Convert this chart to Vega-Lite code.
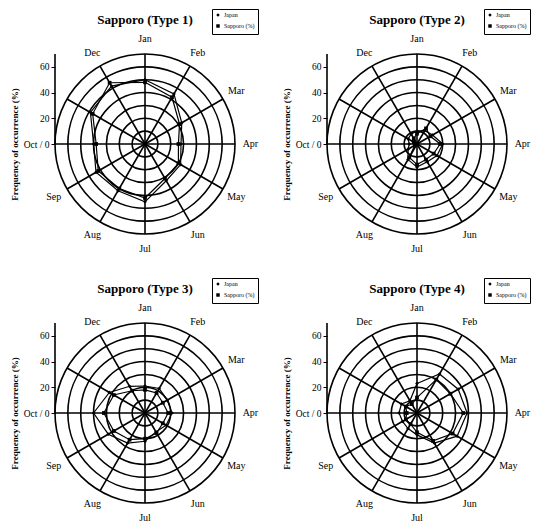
{
  "$schema": "https://vega.github.io/schema/vega-lite/v6.json",
  "padding": {"left": 10, "top": 8, "right": 2, "bottom": 2},
  "background": "white",
  "config": {"view": {"stroke": null}, "font": "Liberation Serif", "axis": {"labelOverlap": false, "labelSeparation": 0}, "axisY": {"labelOverlap": false}},
  "datasets": {
    "rings": [{"r": 10}, {"r": 20}, {"r": 30}, {"r": 40}, {"r": 50}, {"r": 60}, {"r": 70}],
    "months": [{"m": "Jan"}, {"m": "Feb"}, {"m": "Mar"}, {"m": "Apr"}, {"m": "May"}, {"m": "Jun"}, {"m": "Jul"}, {"m": "Aug"}, {"m": "Sep"}, {"m": "Oct"}, {"m": "Nov"}, {"m": "Dec"}],
    "axisline": [{"r0": 0, "r1": 70}],
    "series": [
      {"type": "Type 1", "series": "Japan", "m": "Jan", "v": 50},
      {"type": "Type 1", "series": "Japan", "m": "Feb", "v": 45},
      {"type": "Type 1", "series": "Japan", "m": "Mar", "v": 33},
      {"type": "Type 1", "series": "Japan", "m": "Apr", "v": 28},
      {"type": "Type 1", "series": "Japan", "m": "May", "v": 32},
      {"type": "Type 1", "series": "Japan", "m": "Jun", "v": 33},
      {"type": "Type 1", "series": "Japan", "m": "Jul", "v": 45},
      {"type": "Type 1", "series": "Japan", "m": "Aug", "v": 42},
      {"type": "Type 1", "series": "Japan", "m": "Sep", "v": 44},
      {"type": "Type 1", "series": "Japan", "m": "Oct", "v": 40},
      {"type": "Type 1", "series": "Japan", "m": "Nov", "v": 49},
      {"type": "Type 1", "series": "Japan", "m": "Dec", "v": 52},
      {"type": "Type 1", "series": "Sapporo (%)", "m": "Jan", "v": 48},
      {"type": "Type 1", "series": "Sapporo (%)", "m": "Feb", "v": 42},
      {"type": "Type 1", "series": "Sapporo (%)", "m": "Mar", "v": 31},
      {"type": "Type 1", "series": "Sapporo (%)", "m": "Apr", "v": 26},
      {"type": "Type 1", "series": "Sapporo (%)", "m": "May", "v": 30},
      {"type": "Type 1", "series": "Sapporo (%)", "m": "Jun", "v": 31},
      {"type": "Type 1", "series": "Sapporo (%)", "m": "Jul", "v": 42},
      {"type": "Type 1", "series": "Sapporo (%)", "m": "Aug", "v": 40},
      {"type": "Type 1", "series": "Sapporo (%)", "m": "Sep", "v": 42},
      {"type": "Type 1", "series": "Sapporo (%)", "m": "Oct", "v": 38},
      {"type": "Type 1", "series": "Sapporo (%)", "m": "Nov", "v": 47},
      {"type": "Type 1", "series": "Sapporo (%)", "m": "Dec", "v": 55},
      {"type": "Type 2", "series": "Japan", "m": "Jan", "v": 10},
      {"type": "Type 2", "series": "Japan", "m": "Feb", "v": 12},
      {"type": "Type 2", "series": "Japan", "m": "Mar", "v": 14},
      {"type": "Type 2", "series": "Japan", "m": "Apr", "v": 20},
      {"type": "Type 2", "series": "Japan", "m": "May", "v": 18},
      {"type": "Type 2", "series": "Japan", "m": "Jun", "v": 16},
      {"type": "Type 2", "series": "Japan", "m": "Jul", "v": 18},
      {"type": "Type 2", "series": "Japan", "m": "Aug", "v": 14},
      {"type": "Type 2", "series": "Japan", "m": "Sep", "v": 8},
      {"type": "Type 2", "series": "Japan", "m": "Oct", "v": 6},
      {"type": "Type 2", "series": "Japan", "m": "Nov", "v": 8},
      {"type": "Type 2", "series": "Japan", "m": "Dec", "v": 9},
      {"type": "Type 2", "series": "Sapporo (%)", "m": "Jan", "v": 8},
      {"type": "Type 2", "series": "Sapporo (%)", "m": "Feb", "v": 14},
      {"type": "Type 2", "series": "Sapporo (%)", "m": "Mar", "v": 12},
      {"type": "Type 2", "series": "Sapporo (%)", "m": "Apr", "v": 18},
      {"type": "Type 2", "series": "Sapporo (%)", "m": "May", "v": 15},
      {"type": "Type 2", "series": "Sapporo (%)", "m": "Jun", "v": 14},
      {"type": "Type 2", "series": "Sapporo (%)", "m": "Jul", "v": 16},
      {"type": "Type 2", "series": "Sapporo (%)", "m": "Aug", "v": 12},
      {"type": "Type 2", "series": "Sapporo (%)", "m": "Sep", "v": 2},
      {"type": "Type 2", "series": "Sapporo (%)", "m": "Oct", "v": 1},
      {"type": "Type 2", "series": "Sapporo (%)", "m": "Nov", "v": 3},
      {"type": "Type 2", "series": "Sapporo (%)", "m": "Dec", "v": 5},
      {"type": "Type 3", "series": "Japan", "m": "Jan", "v": 21},
      {"type": "Type 3", "series": "Japan", "m": "Feb", "v": 22},
      {"type": "Type 3", "series": "Japan", "m": "Mar", "v": 20},
      {"type": "Type 3", "series": "Japan", "m": "Apr", "v": 21},
      {"type": "Type 3", "series": "Japan", "m": "May", "v": 19},
      {"type": "Type 3", "series": "Japan", "m": "Jun", "v": 17},
      {"type": "Type 3", "series": "Japan", "m": "Jul", "v": 22},
      {"type": "Type 3", "series": "Japan", "m": "Aug", "v": 27},
      {"type": "Type 3", "series": "Japan", "m": "Sep", "v": 33},
      {"type": "Type 3", "series": "Japan", "m": "Oct", "v": 40},
      {"type": "Type 3", "series": "Japan", "m": "Nov", "v": 32},
      {"type": "Type 3", "series": "Japan", "m": "Dec", "v": 24},
      {"type": "Type 3", "series": "Sapporo (%)", "m": "Jan", "v": 18},
      {"type": "Type 3", "series": "Sapporo (%)", "m": "Feb", "v": 18},
      {"type": "Type 3", "series": "Sapporo (%)", "m": "Mar", "v": 16},
      {"type": "Type 3", "series": "Sapporo (%)", "m": "Apr", "v": 18},
      {"type": "Type 3", "series": "Sapporo (%)", "m": "May", "v": 16},
      {"type": "Type 3", "series": "Sapporo (%)", "m": "Jun", "v": 18},
      {"type": "Type 3", "series": "Sapporo (%)", "m": "Jul", "v": 20},
      {"type": "Type 3", "series": "Sapporo (%)", "m": "Aug", "v": 24},
      {"type": "Type 3", "series": "Sapporo (%)", "m": "Sep", "v": 28},
      {"type": "Type 3", "series": "Sapporo (%)", "m": "Oct", "v": 32},
      {"type": "Type 3", "series": "Sapporo (%)", "m": "Nov", "v": 28},
      {"type": "Type 3", "series": "Sapporo (%)", "m": "Dec", "v": 20},
      {"type": "Type 4", "series": "Japan", "m": "Jan", "v": 23},
      {"type": "Type 4", "series": "Japan", "m": "Feb", "v": 35},
      {"type": "Type 4", "series": "Japan", "m": "Mar", "v": 37},
      {"type": "Type 4", "series": "Japan", "m": "Apr", "v": 39},
      {"type": "Type 4", "series": "Japan", "m": "May", "v": 36},
      {"type": "Type 4", "series": "Japan", "m": "Jun", "v": 27},
      {"type": "Type 4", "series": "Japan", "m": "Jul", "v": 17},
      {"type": "Type 4", "series": "Japan", "m": "Aug", "v": 14},
      {"type": "Type 4", "series": "Japan", "m": "Sep", "v": 13},
      {"type": "Type 4", "series": "Japan", "m": "Oct", "v": 14},
      {"type": "Type 4", "series": "Japan", "m": "Nov", "v": 14},
      {"type": "Type 4", "series": "Japan", "m": "Dec", "v": 11},
      {"type": "Type 4", "series": "Sapporo (%)", "m": "Jan", "v": 12},
      {"type": "Type 4", "series": "Sapporo (%)", "m": "Feb", "v": 30},
      {"type": "Type 4", "series": "Sapporo (%)", "m": "Mar", "v": 30},
      {"type": "Type 4", "series": "Sapporo (%)", "m": "Apr", "v": 36},
      {"type": "Type 4", "series": "Sapporo (%)", "m": "May", "v": 32},
      {"type": "Type 4", "series": "Sapporo (%)", "m": "Jun", "v": 25},
      {"type": "Type 4", "series": "Sapporo (%)", "m": "Jul", "v": 15},
      {"type": "Type 4", "series": "Sapporo (%)", "m": "Aug", "v": 10},
      {"type": "Type 4", "series": "Sapporo (%)", "m": "Sep", "v": 10},
      {"type": "Type 4", "series": "Sapporo (%)", "m": "Oct", "v": 8},
      {"type": "Type 4", "series": "Sapporo (%)", "m": "Nov", "v": 10},
      {"type": "Type 4", "series": "Sapporo (%)", "m": "Dec", "v": 8}
    ]
  },
  "bounds": "flush",
  "columns": 2,
  "spacing": {"row": 89, "column": 92},
  "resolve": {"scale": {"shape": "independent", "radius": "independent", "x": "independent", "y": "independent"}, "legend": {"shape": "independent"}},
  "concat": [
    {
      "width": 180, "height": 180,
      "title": {"text": "Sapporo (Type 1)", "font": "Liberation Serif", "fontSize": 13, "fontWeight": "bold", "color": "black", "anchor": "middle", "offset": -18},
      "layer": [
        {"data": {"name": "rings"}, "mark": {"type": "arc", "filled": false, "stroke": "black", "strokeWidth": 1.6, "theta": 0, "theta2": 6.2832},
         "encoding": {"x": {"datum": 0, "type": "quantitative", "scale": {"domain": [-70, 70], "nice": false, "zero": false}, "axis": null}, "y": {"datum": 0, "type": "quantitative", "scale": {"domain": [-70, 70], "nice": false, "zero": false}, "axis": {"title": "Frequency of occurrence (%)", "values": [0, 10, 20, 30, 40, 50, 60, 70], "labelExpr": "datum.value == 0 ? 'Oct / 0' : '' + datum.value", "labelOverlap": false, "labelBound": false, "domain": false, "grid": false, "tickSize": 4, "tickColor": "black", "labelFont": "Liberation Serif", "labelFontSize": 9.5, "labelColor": "black", "labelPadding": 2, "titleFont": "Liberation Serif", "titleFontSize": 9, "titleFontWeight": "bold", "titleColor": "black", "titlePadding": 4}}, "radius": {"field": "r", "type": "quantitative", "stack": null, "scale": {"type": "linear", "domain": [0, 70], "range": [0, 90], "zero": true}}}},
        {"data": {"name": "months"},
         "transform": [{"calculate": "indexof(['Jan','Feb','Mar','Apr','May','Jun','Jul','Aug','Sep','Oct','Nov','Dec'], datum.m)*PI/6", "as": "a"}, {"calculate": "70*sin(datum.a)", "as": "x"}, {"calculate": "70*cos(datum.a)", "as": "y"}],
         "mark": {"type": "rule", "stroke": "black", "strokeWidth": 1.6},
         "encoding": {"x": {"field": "x", "type": "quantitative", "axis": null}, "y": {"field": "y", "type": "quantitative"}, "x2": {"datum": 0}, "y2": {"datum": 0}}},
        {"data": {"name": "axisline"}, "mark": {"type": "rule", "stroke": "black", "strokeWidth": 1.6},
         "encoding": {"x": {"datum": -70, "type": "quantitative", "axis": null}, "y": {"field": "r0", "type": "quantitative"}, "y2": {"field": "r1"}}},
        {"data": {"name": "months"},
         "transform": [{"filter": "datum.m != 'Oct' && datum.m != 'Nov'"}, {"calculate": "indexof(['Jan','Feb','Mar','Apr','May','Jun','Jul','Aug','Sep','Oct','Nov','Dec'], datum.m)*PI/6", "as": "a"}, {"calculate": "82*sin(datum.a)", "as": "x"}, {"calculate": "82*cos(datum.a)", "as": "y"}],
         "mark": {"type": "text", "font": "Liberation Serif", "fontSize": 10, "color": "black", "align": "center", "baseline": "middle"},
         "encoding": {"x": {"field": "x", "type": "quantitative", "axis": null}, "y": {"field": "y", "type": "quantitative"}, "text": {"field": "m"}}},
        {"data": {"name": "series"},
         "transform": [{"filter": "datum.type == 'Type 1'"}, {"calculate": "indexof(['Jan','Feb','Mar','Apr','May','Jun','Jul','Aug','Sep','Oct','Nov','Dec'], datum.m)", "as": "i"}, {"calculate": "datum.v*sin(datum.i*PI/6)", "as": "x"}, {"calculate": "datum.v*cos(datum.i*PI/6)", "as": "y"}],
         "mark": {"type": "line", "interpolate": "linear-closed", "stroke": "black", "strokeWidth": 1.2},
         "encoding": {"x": {"field": "x", "type": "quantitative", "axis": null}, "y": {"field": "y", "type": "quantitative"}, "detail": {"field": "series"}, "order": {"field": "i"}}},
        {"data": {"name": "series"},
         "transform": [{"filter": "datum.type == 'Type 1'"}, {"calculate": "indexof(['Jan','Feb','Mar','Apr','May','Jun','Jul','Aug','Sep','Oct','Nov','Dec'], datum.m)", "as": "i"}, {"calculate": "datum.v*sin(datum.i*PI/6)", "as": "x"}, {"calculate": "datum.v*cos(datum.i*PI/6)", "as": "y"}],
         "mark": {"type": "point", "filled": true, "color": "black", "size": 14, "opacity": 1},
         "encoding": {"x": {"field": "x", "type": "quantitative", "axis": null}, "y": {"field": "y", "type": "quantitative"},
           "shape": {"field": "series", "type": "nominal", "scale": {"domain": ["Japan", "Sapporo (%)"], "range": ["diamond", "square"]},
             "legend": {"orient": "none", "legendX": 157, "legendY": -45, "title": null, "strokeColor": "black", "padding": 3, "labelFont": "Liberation Serif", "labelFontSize": 6, "labelColor": "black", "symbolSize": 12, "symbolFillColor": "black", "symbolStrokeColor": "black", "rowPadding": 1, "labelOffset": 3}}}}
      ]
    },
    {
      "width": 180, "height": 180,
      "title": {"text": "Sapporo (Type 2)", "font": "Liberation Serif", "fontSize": 13, "fontWeight": "bold", "color": "black", "anchor": "middle", "offset": -18},
      "layer": [
        {"data": {"name": "rings"}, "mark": {"type": "arc", "filled": false, "stroke": "black", "strokeWidth": 1.6, "theta": 0, "theta2": 6.2832},
         "encoding": {"x": {"datum": 0, "type": "quantitative", "scale": {"domain": [-70, 70], "nice": false, "zero": false}, "axis": null}, "y": {"datum": 0, "type": "quantitative", "scale": {"domain": [-70, 70], "nice": false, "zero": false}, "axis": {"title": "Frequency of occurrence (%)", "values": [0, 10, 20, 30, 40, 50, 60, 70], "labelExpr": "datum.value == 0 ? 'Oct / 0' : '' + datum.value", "labelOverlap": false, "labelBound": false, "domain": false, "grid": false, "tickSize": 4, "tickColor": "black", "labelFont": "Liberation Serif", "labelFontSize": 9.5, "labelColor": "black", "labelPadding": 2, "titleFont": "Liberation Serif", "titleFontSize": 9, "titleFontWeight": "bold", "titleColor": "black", "titlePadding": 4}}, "radius": {"field": "r", "type": "quantitative", "stack": null, "scale": {"type": "linear", "domain": [0, 70], "range": [0, 90], "zero": true}}}},
        {"data": {"name": "months"},
         "transform": [{"calculate": "indexof(['Jan','Feb','Mar','Apr','May','Jun','Jul','Aug','Sep','Oct','Nov','Dec'], datum.m)*PI/6", "as": "a"}, {"calculate": "70*sin(datum.a)", "as": "x"}, {"calculate": "70*cos(datum.a)", "as": "y"}],
         "mark": {"type": "rule", "stroke": "black", "strokeWidth": 1.6},
         "encoding": {"x": {"field": "x", "type": "quantitative", "axis": null}, "y": {"field": "y", "type": "quantitative"}, "x2": {"datum": 0}, "y2": {"datum": 0}}},
        {"data": {"name": "axisline"}, "mark": {"type": "rule", "stroke": "black", "strokeWidth": 1.6},
         "encoding": {"x": {"datum": -70, "type": "quantitative", "axis": null}, "y": {"field": "r0", "type": "quantitative"}, "y2": {"field": "r1"}}},
        {"data": {"name": "months"},
         "transform": [{"filter": "datum.m != 'Oct' && datum.m != 'Nov'"}, {"calculate": "indexof(['Jan','Feb','Mar','Apr','May','Jun','Jul','Aug','Sep','Oct','Nov','Dec'], datum.m)*PI/6", "as": "a"}, {"calculate": "82*sin(datum.a)", "as": "x"}, {"calculate": "82*cos(datum.a)", "as": "y"}],
         "mark": {"type": "text", "font": "Liberation Serif", "fontSize": 10, "color": "black", "align": "center", "baseline": "middle"},
         "encoding": {"x": {"field": "x", "type": "quantitative", "axis": null}, "y": {"field": "y", "type": "quantitative"}, "text": {"field": "m"}}},
        {"data": {"name": "series"},
         "transform": [{"filter": "datum.type == 'Type 2'"}, {"calculate": "indexof(['Jan','Feb','Mar','Apr','May','Jun','Jul','Aug','Sep','Oct','Nov','Dec'], datum.m)", "as": "i"}, {"calculate": "datum.v*sin(datum.i*PI/6)", "as": "x"}, {"calculate": "datum.v*cos(datum.i*PI/6)", "as": "y"}],
         "mark": {"type": "line", "interpolate": "linear-closed", "stroke": "black", "strokeWidth": 1.2},
         "encoding": {"x": {"field": "x", "type": "quantitative", "axis": null}, "y": {"field": "y", "type": "quantitative"}, "detail": {"field": "series"}, "order": {"field": "i"}}},
        {"data": {"name": "series"},
         "transform": [{"filter": "datum.type == 'Type 2'"}, {"calculate": "indexof(['Jan','Feb','Mar','Apr','May','Jun','Jul','Aug','Sep','Oct','Nov','Dec'], datum.m)", "as": "i"}, {"calculate": "datum.v*sin(datum.i*PI/6)", "as": "x"}, {"calculate": "datum.v*cos(datum.i*PI/6)", "as": "y"}],
         "mark": {"type": "point", "filled": true, "color": "black", "size": 14, "opacity": 1},
         "encoding": {"x": {"field": "x", "type": "quantitative", "axis": null}, "y": {"field": "y", "type": "quantitative"},
           "shape": {"field": "series", "type": "nominal", "scale": {"domain": ["Japan", "Sapporo (%)"], "range": ["diamond", "square"]},
             "legend": {"orient": "none", "legendX": 157, "legendY": -45, "title": null, "strokeColor": "black", "padding": 3, "labelFont": "Liberation Serif", "labelFontSize": 6, "labelColor": "black", "symbolSize": 12, "symbolFillColor": "black", "symbolStrokeColor": "black", "rowPadding": 1, "labelOffset": 3}}}}
      ]
    },
    {
      "width": 180, "height": 180,
      "title": {"text": "Sapporo (Type 3)", "font": "Liberation Serif", "fontSize": 13, "fontWeight": "bold", "color": "black", "anchor": "middle", "offset": -18},
      "layer": [
        {"data": {"name": "rings"}, "mark": {"type": "arc", "filled": false, "stroke": "black", "strokeWidth": 1.6, "theta": 0, "theta2": 6.2832},
         "encoding": {"x": {"datum": 0, "type": "quantitative", "scale": {"domain": [-70, 70], "nice": false, "zero": false}, "axis": null}, "y": {"datum": 0, "type": "quantitative", "scale": {"domain": [-70, 70], "nice": false, "zero": false}, "axis": {"title": "Frequency of occurrence (%)", "values": [0, 10, 20, 30, 40, 50, 60, 70], "labelExpr": "datum.value == 0 ? 'Oct / 0' : '' + datum.value", "labelOverlap": false, "labelBound": false, "domain": false, "grid": false, "tickSize": 4, "tickColor": "black", "labelFont": "Liberation Serif", "labelFontSize": 9.5, "labelColor": "black", "labelPadding": 2, "titleFont": "Liberation Serif", "titleFontSize": 9, "titleFontWeight": "bold", "titleColor": "black", "titlePadding": 4}}, "radius": {"field": "r", "type": "quantitative", "stack": null, "scale": {"type": "linear", "domain": [0, 70], "range": [0, 90], "zero": true}}}},
        {"data": {"name": "months"},
         "transform": [{"calculate": "indexof(['Jan','Feb','Mar','Apr','May','Jun','Jul','Aug','Sep','Oct','Nov','Dec'], datum.m)*PI/6", "as": "a"}, {"calculate": "70*sin(datum.a)", "as": "x"}, {"calculate": "70*cos(datum.a)", "as": "y"}],
         "mark": {"type": "rule", "stroke": "black", "strokeWidth": 1.6},
         "encoding": {"x": {"field": "x", "type": "quantitative", "axis": null}, "y": {"field": "y", "type": "quantitative"}, "x2": {"datum": 0}, "y2": {"datum": 0}}},
        {"data": {"name": "axisline"}, "mark": {"type": "rule", "stroke": "black", "strokeWidth": 1.6},
         "encoding": {"x": {"datum": -70, "type": "quantitative", "axis": null}, "y": {"field": "r0", "type": "quantitative"}, "y2": {"field": "r1"}}},
        {"data": {"name": "months"},
         "transform": [{"filter": "datum.m != 'Oct' && datum.m != 'Nov'"}, {"calculate": "indexof(['Jan','Feb','Mar','Apr','May','Jun','Jul','Aug','Sep','Oct','Nov','Dec'], datum.m)*PI/6", "as": "a"}, {"calculate": "82*sin(datum.a)", "as": "x"}, {"calculate": "82*cos(datum.a)", "as": "y"}],
         "mark": {"type": "text", "font": "Liberation Serif", "fontSize": 10, "color": "black", "align": "center", "baseline": "middle"},
         "encoding": {"x": {"field": "x", "type": "quantitative", "axis": null}, "y": {"field": "y", "type": "quantitative"}, "text": {"field": "m"}}},
        {"data": {"name": "series"},
         "transform": [{"filter": "datum.type == 'Type 3'"}, {"calculate": "indexof(['Jan','Feb','Mar','Apr','May','Jun','Jul','Aug','Sep','Oct','Nov','Dec'], datum.m)", "as": "i"}, {"calculate": "datum.v*sin(datum.i*PI/6)", "as": "x"}, {"calculate": "datum.v*cos(datum.i*PI/6)", "as": "y"}],
         "mark": {"type": "line", "interpolate": "linear-closed", "stroke": "black", "strokeWidth": 1.2},
         "encoding": {"x": {"field": "x", "type": "quantitative", "axis": null}, "y": {"field": "y", "type": "quantitative"}, "detail": {"field": "series"}, "order": {"field": "i"}}},
        {"data": {"name": "series"},
         "transform": [{"filter": "datum.type == 'Type 3'"}, {"calculate": "indexof(['Jan','Feb','Mar','Apr','May','Jun','Jul','Aug','Sep','Oct','Nov','Dec'], datum.m)", "as": "i"}, {"calculate": "datum.v*sin(datum.i*PI/6)", "as": "x"}, {"calculate": "datum.v*cos(datum.i*PI/6)", "as": "y"}],
         "mark": {"type": "point", "filled": true, "color": "black", "size": 14, "opacity": 1},
         "encoding": {"x": {"field": "x", "type": "quantitative", "axis": null}, "y": {"field": "y", "type": "quantitative"},
           "shape": {"field": "series", "type": "nominal", "scale": {"domain": ["Japan", "Sapporo (%)"], "range": ["diamond", "square"]},
             "legend": {"orient": "none", "legendX": 157, "legendY": -45, "title": null, "strokeColor": "black", "padding": 3, "labelFont": "Liberation Serif", "labelFontSize": 6, "labelColor": "black", "symbolSize": 12, "symbolFillColor": "black", "symbolStrokeColor": "black", "rowPadding": 1, "labelOffset": 3}}}}
      ]
    },
    {
      "width": 180, "height": 180,
      "title": {"text": "Sapporo (Type 4)", "font": "Liberation Serif", "fontSize": 13, "fontWeight": "bold", "color": "black", "anchor": "middle", "offset": -18},
      "layer": [
        {"data": {"name": "rings"}, "mark": {"type": "arc", "filled": false, "stroke": "black", "strokeWidth": 1.6, "theta": 0, "theta2": 6.2832},
         "encoding": {"x": {"datum": 0, "type": "quantitative", "scale": {"domain": [-70, 70], "nice": false, "zero": false}, "axis": null}, "y": {"datum": 0, "type": "quantitative", "scale": {"domain": [-70, 70], "nice": false, "zero": false}, "axis": {"title": "Frequency of occurrence (%)", "values": [0, 10, 20, 30, 40, 50, 60, 70], "labelExpr": "datum.value == 0 ? 'Oct / 0' : '' + datum.value", "labelOverlap": false, "labelBound": false, "domain": false, "grid": false, "tickSize": 4, "tickColor": "black", "labelFont": "Liberation Serif", "labelFontSize": 9.5, "labelColor": "black", "labelPadding": 2, "titleFont": "Liberation Serif", "titleFontSize": 9, "titleFontWeight": "bold", "titleColor": "black", "titlePadding": 4}}, "radius": {"field": "r", "type": "quantitative", "stack": null, "scale": {"type": "linear", "domain": [0, 70], "range": [0, 90], "zero": true}}}},
        {"data": {"name": "months"},
         "transform": [{"calculate": "indexof(['Jan','Feb','Mar','Apr','May','Jun','Jul','Aug','Sep','Oct','Nov','Dec'], datum.m)*PI/6", "as": "a"}, {"calculate": "70*sin(datum.a)", "as": "x"}, {"calculate": "70*cos(datum.a)", "as": "y"}],
         "mark": {"type": "rule", "stroke": "black", "strokeWidth": 1.6},
         "encoding": {"x": {"field": "x", "type": "quantitative", "axis": null}, "y": {"field": "y", "type": "quantitative"}, "x2": {"datum": 0}, "y2": {"datum": 0}}},
        {"data": {"name": "axisline"}, "mark": {"type": "rule", "stroke": "black", "strokeWidth": 1.6},
         "encoding": {"x": {"datum": -70, "type": "quantitative", "axis": null}, "y": {"field": "r0", "type": "quantitative"}, "y2": {"field": "r1"}}},
        {"data": {"name": "months"},
         "transform": [{"filter": "datum.m != 'Oct' && datum.m != 'Nov'"}, {"calculate": "indexof(['Jan','Feb','Mar','Apr','May','Jun','Jul','Aug','Sep','Oct','Nov','Dec'], datum.m)*PI/6", "as": "a"}, {"calculate": "82*sin(datum.a)", "as": "x"}, {"calculate": "82*cos(datum.a)", "as": "y"}],
         "mark": {"type": "text", "font": "Liberation Serif", "fontSize": 10, "color": "black", "align": "center", "baseline": "middle"},
         "encoding": {"x": {"field": "x", "type": "quantitative", "axis": null}, "y": {"field": "y", "type": "quantitative"}, "text": {"field": "m"}}},
        {"data": {"name": "series"},
         "transform": [{"filter": "datum.type == 'Type 4'"}, {"calculate": "indexof(['Jan','Feb','Mar','Apr','May','Jun','Jul','Aug','Sep','Oct','Nov','Dec'], datum.m)", "as": "i"}, {"calculate": "datum.v*sin(datum.i*PI/6)", "as": "x"}, {"calculate": "datum.v*cos(datum.i*PI/6)", "as": "y"}],
         "mark": {"type": "line", "interpolate": "linear-closed", "stroke": "black", "strokeWidth": 1.2},
         "encoding": {"x": {"field": "x", "type": "quantitative", "axis": null}, "y": {"field": "y", "type": "quantitative"}, "detail": {"field": "series"}, "order": {"field": "i"}}},
        {"data": {"name": "series"},
         "transform": [{"filter": "datum.type == 'Type 4'"}, {"calculate": "indexof(['Jan','Feb','Mar','Apr','May','Jun','Jul','Aug','Sep','Oct','Nov','Dec'], datum.m)", "as": "i"}, {"calculate": "datum.v*sin(datum.i*PI/6)", "as": "x"}, {"calculate": "datum.v*cos(datum.i*PI/6)", "as": "y"}],
         "mark": {"type": "point", "filled": true, "color": "black", "size": 14, "opacity": 1},
         "encoding": {"x": {"field": "x", "type": "quantitative", "axis": null}, "y": {"field": "y", "type": "quantitative"},
           "shape": {"field": "series", "type": "nominal", "scale": {"domain": ["Japan", "Sapporo (%)"], "range": ["diamond", "square"]},
             "legend": {"orient": "none", "legendX": 157, "legendY": -45, "title": null, "strokeColor": "black", "padding": 3, "labelFont": "Liberation Serif", "labelFontSize": 6, "labelColor": "black", "symbolSize": 12, "symbolFillColor": "black", "symbolStrokeColor": "black", "rowPadding": 1, "labelOffset": 3}}}}
      ]
    }
  ]
}
